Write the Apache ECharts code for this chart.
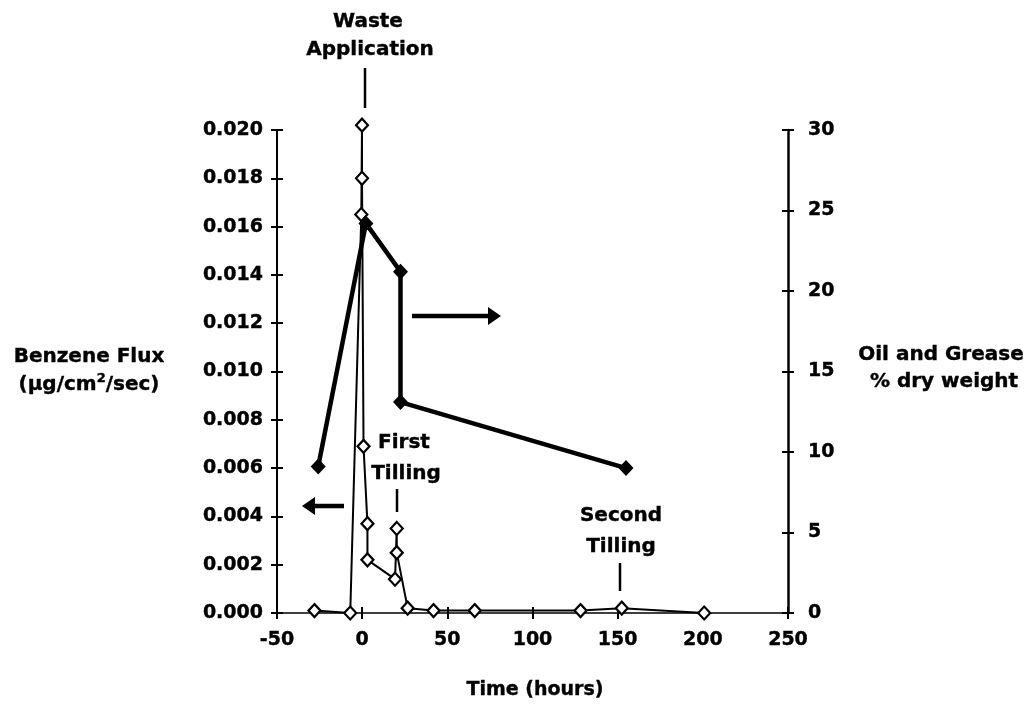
<!DOCTYPE html>
<html>
<head>
<meta charset="utf-8">
<script src="https://cdn.jsdelivr.net/npm/echarts@6/dist/echarts.min.js"></script>
<style>
  html, body { margin: 0; padding: 0; background: #fff; }
  #chart { width: 1031px; height: 706px; }
</style>
</head>
<body>
<div id="chart"></div>
<script>
// Time axis (hours) tick labels
const timeTicks = [-50, 0, 50, 100, 150, 200, 250];
// Benzene flux (ug/cm2/sec), open diamonds, left axis
const fluxTime  = [-28, -7, -0.5, -0.1, -0.1, 0.8, 3.1, 3.1, 19.3, 20.3, 20.3, 26.7, 41.9, 66.1, 128.2, 152.4, 200.8];
const fluxValue = [0.0001, 0.0, 0.0165, 0.0202, 0.0180, 0.0069, 0.0037, 0.0022, 0.0014, 0.0035, 0.0025, 0.0002, 0.0001, 0.0001, 0.0001, 0.0002, 0.0];
// Oil and grease (% dry weight), filled diamonds, right axis
const oilTime  = [-25.8, 2.2, 22.5, 22.5, 154.9];
const oilValue = [9.1, 24.2, 21.2, 13.1, 9.0];

const FONT = 'DejaVu Sans';
const chart = echarts.init(document.getElementById('chart'), null, { renderer: 'canvas' });

const zip = (xs, ys) => xs.map((x, i) => [x, ys[i]]);
const tickLabel = { color: '#000', fontFamily: FONT, fontWeight: 'bold', fontSize: 19, textBorderColor: '#000', textBorderWidth: 0.4 };
const tickStyle = { color: '#000', width: 2 };
const textStyle = (size) => ({ fill: '#000', font: 'bold ' + size + 'px ' + FONT, textAlign: 'center', textVerticalAlign: 'middle', stroke: '#000', lineWidth: 0.4 });

// each side gets a second, label-less axis with inward ticks so ticks cross the axis line
const option = {
  animation: false,
  backgroundColor: '#fff',
  grid: { left: 277, right: 243, top: 130, bottom: 93 },
  xAxis: [
    {
      type: 'value', min: timeTicks[0], max: timeTicks[timeTicks.length - 1], interval: 50,
      axisLine: { onZero: false, lineStyle: { color: '#000', width: 1.5 } },
      axisTick: { length: 6, lineStyle: tickStyle },
      axisLabel: Object.assign({ margin: 18 }, tickLabel),
      splitLine: { show: false }
    },
    {
      type: 'value', min: timeTicks[0], max: timeTicks[timeTicks.length - 1], interval: 50,
      position: 'bottom',
      axisLine: { show: false, onZero: false },
      axisTick: { inside: true, length: 6, lineStyle: tickStyle },
      axisLabel: { show: false },
      splitLine: { show: false }
    }
  ],
  yAxis: [
    {
      type: 'value', position: 'left', min: 0, max: 0.02, interval: 0.002,
      axisLine: { show: true, onZero: false, lineStyle: { color: '#000', width: 2 } },
      axisTick: { show: true, length: 6, lineStyle: tickStyle },
      axisLabel: Object.assign({ margin: 14, formatter: v => v.toFixed(3) }, tickLabel),
      splitLine: { show: false }
    },
    {
      type: 'value', position: 'right', min: 0, max: 30, interval: 5,
      axisLine: { show: true, onZero: false, lineStyle: { color: '#000', width: 2.5 } },
      axisTick: { show: true, length: 6, lineStyle: tickStyle },
      axisLabel: Object.assign({ margin: 20 }, tickLabel),
      splitLine: { show: false }
    },
    {
      type: 'value', position: 'left', min: 0, max: 0.02, interval: 0.002,
      axisLine: { show: false, onZero: false },
      axisTick: { show: true, inside: true, length: 6, lineStyle: tickStyle },
      axisLabel: { show: false },
      splitLine: { show: false }
    },
    {
      type: 'value', position: 'right', min: 0, max: 30, interval: 5,
      axisLine: { show: false, onZero: false },
      axisTick: { show: true, inside: true, length: 6, lineStyle: tickStyle },
      axisLabel: { show: false },
      splitLine: { show: false }
    }
  ],
  series: [
    {
      name: 'Benzene Flux',
      type: 'line',
      xAxisIndex: 0, yAxisIndex: 0,
      data: zip(fluxTime, fluxValue),
      clip: false,
      symbol: 'diamond', symbolSize: [12, 13],
      itemStyle: { color: '#fff', borderColor: '#000', borderWidth: 2.2 },
      lineStyle: { color: '#000', width: 2 },
      z: 3
    },
    {
      name: 'Oil and Grease',
      type: 'line',
      xAxisIndex: 0, yAxisIndex: 1,
      data: zip(oilTime, oilValue),
      clip: false,
      symbol: 'diamond', symbolSize: [15, 16],
      itemStyle: { color: '#000' },
      lineStyle: { color: '#000', width: 4.5 },
      z: 4
    }
  ],
  graphic: [
    // axis titles
    { type: 'text', x: 89, y: 357, style: textStyle(20, 'Benzene Flux') },
    { type: 'text', x: 89, y: 385, style: Object.assign(textStyle(20), {
        text: '(µg/cm{s|2}/sec)',
        rich: { s: { fontSize: 13, fontWeight: 'bold', fontFamily: FONT, padding: [0, 0, 12, 0] } }
      }) },
    { type: 'text', x: 941, y: 355, style: Object.assign(textStyle(20), { text: 'Oil and Grease' }) },
    { type: 'text', x: 944, y: 382, style: Object.assign(textStyle(20), { text: '% dry weight' }) },
    { type: 'text', x: 535, y: 690, style: Object.assign(textStyle(19), { text: 'Time (hours)' }) },
    // event annotations
    { type: 'text', x: 368, y: 22, style: Object.assign(textStyle(20), { text: 'Waste' }) },
    { type: 'text', x: 370, y: 50, style: Object.assign(textStyle(20), { text: 'Application' }) },
    { type: 'line', shape: { x1: 365, y1: 68, x2: 365, y2: 108 }, style: { stroke: '#000', lineWidth: 2.5 } },
    { type: 'text', x: 404, y: 443, style: Object.assign(textStyle(20), { text: 'First' }) },
    { type: 'text', x: 406, y: 474, style: Object.assign(textStyle(20), { text: 'Tilling' }) },
    { type: 'line', shape: { x1: 397, y1: 489, x2: 397, y2: 512 }, style: { stroke: '#000', lineWidth: 2.5 } },
    { type: 'text', x: 621, y: 516, style: Object.assign(textStyle(20), { text: 'Second' }) },
    { type: 'text', x: 621, y: 547, style: Object.assign(textStyle(20), { text: 'Tilling' }) },
    { type: 'line', shape: { x1: 620, y1: 563, x2: 620, y2: 591 }, style: { stroke: '#000', lineWidth: 2.5 } },
    // direction arrows pointing to each series' axis
    { type: 'line', shape: { x1: 344, y1: 506, x2: 312, y2: 506 }, style: { stroke: '#000', lineWidth: 4.5 } },
    { type: 'polygon', shape: { points: [[302, 506], [315, 497], [315, 515]] }, style: { fill: '#000' } },
    { type: 'line', shape: { x1: 412, y1: 316, x2: 490, y2: 316 }, style: { stroke: '#000', lineWidth: 4.5 } },
    { type: 'polygon', shape: { points: [[501, 316], [488, 307], [488, 325]] }, style: { fill: '#000' } }
  ]
};
option.graphic[0].style.text = 'Benzene Flux';

chart.setOption(option);
</script>
</body>
</html>
